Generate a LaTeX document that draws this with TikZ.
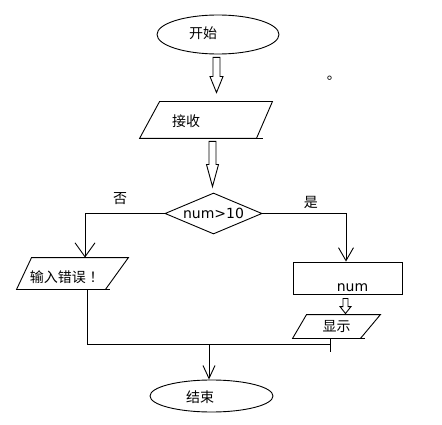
\documentclass[tikz,border=0pt]{standalone}
\usepackage{fontspec}
\setmainfont{DejaVu Sans}
\newfontfamily\cjk{Noto Sans CJK SC}
\newfontfamily\cjkjp{Noto Sans CJK JP}
\usetikzlibrary{arrows.meta,
  calc,
  positioning,
  shapes.geometric
}

\begin{document}
\begin{tikzpicture}[x=1pt, y=-1pt, line width=0.9pt,
  hantext/.style={font=\cjk\fontsize{14pt}{16pt}\selectfont},
  latintext/.style={font=\fontsize{14pt}{16pt}\selectfont},
  terminal/.style={draw, ellipse, inner sep=0pt},
  iobox/.style={inner sep=0pt},
  vtip/.style 2 args={-{Straight Barb[length=#1,width=#2]}},
  hollow/.style n args={3}{to path={let \p1=(\tikztostart), \p2=(\tikztotarget) in
    (\x1-#1,\y1) -- (\x1-#1,\y2+#3) -- (\x1-#2,\y2+#3) -- (\x1,\y2)
    -- (\x1+#2,\y2+#3) -- (\x1+#1,\y2+#3) -- (\x1+#1,\y1) -- cycle}}]
  \useasboundingbox (0,0) rectangle (442,425);

  \node[terminal, minimum width=122pt, minimum height=39pt,
    label={[hantext,xshift=-15pt,yshift=1pt]center:开始}] (start) at (218,34.5) {};
  \node[hantext, anchor=base west, inner sep=0pt] (dot) at (326.5,80) {。};

  \node[iobox, minimum width=132pt, minimum height=36pt,
    label={[hantext,xshift=-20pt,yshift=-1.5pt]center:接收}] (recv) at (206,120) {};
  \draw ([xshift=20pt]recv.north west) -- (recv.north east) --
  ([xshift=-16pt]recv.south east) -- (recv.south west) -- cycle;
  \draw ([xshift=-16pt]recv.south east) -- ([xshift=-9pt]recv.south east);

  \node[draw, diamond, aspect=2.37, inner sep=0pt, minimum width=97pt, minimum height=41pt,
    latintext] (dec) at (213.5,213.5) {num>10};

  \node[iobox, minimum width=111pt, minimum height=31pt,
    label={[hantext,xshift=-7.5pt,yshift=-3.5pt]center:输入错误{\cjkjp ！}}] (err) at (72.5,273.5) {};
  \draw ([xshift=15pt]err.north west) -- (err.north east) --
  ([xshift=-23pt]err.south east) -- (err.south west) -- cycle;
  \draw ([xshift=-23pt]err.south east) -- ([xshift=-18pt]err.south east);

  \node[draw, inner sep=0pt, minimum width=109pt, minimum height=32pt,
    label={[latintext,xshift=5pt,yshift=-9.5pt]center:num}] (numbox) at (347.5,278) {};

  \node[iobox, hantext, minimum width=87pt, minimum height=23pt] (show) at (336.5,326.5) {显示};
  \draw ([xshift=14pt]show.north west) -- (show.north east) --
  ([xshift=-20pt]show.south east) -- (show.south west) -- cycle;
  \draw ([xshift=-20pt]show.south east) -- ([xshift=-15pt]show.south east);

  \node[terminal, minimum width=123pt, minimum height=32pt,
    label={[hantext,xshift=-11.5pt,yshift=-1pt]center:结束}] (end) at (211.5,396) {};

  \draw ($(start.south)+(-1.5,3)$) to[hollow={3.5pt}{6.5pt}{16pt}] ($(recv.north)+(0,-9)$);
  \draw ($(recv.south)+(6.5,3)$) to[hollow={3.5pt}{6pt}{22pt}] ($(dec.north)+(0,-6)$);
  \draw ($(numbox.south)+(-2,4)$) to[hollow={2.5pt}{5.5pt}{7pt}] ($(show.north)+(0,-1)$);

  \draw[vtip={14pt}{20pt}] (dec.west) -| ([xshift=12.5pt]err.north)
  node[hantext, inner sep=0pt, pos=0.28, above=8pt] {否};
  \draw[vtip={13pt}{15pt}] (dec.east) -| ([xshift=-1.5pt]numbox.north)
  node[hantext, inner sep=0pt, pos=0.29, above=4pt] {是};

  \coordinate (merge) at (209,344.5);
  \draw ([xshift=14.5pt]err.south) |- (merge);
  \draw ([xshift=-6.5pt]show.south) -- ++(0,14);
  \draw (merge) -- ($(merge -| show.south)+(-6.5,0)$);
  \draw[vtip={13pt}{12pt}] (merge) -- (merge |- end.north);
\end{tikzpicture}
\end{document}
